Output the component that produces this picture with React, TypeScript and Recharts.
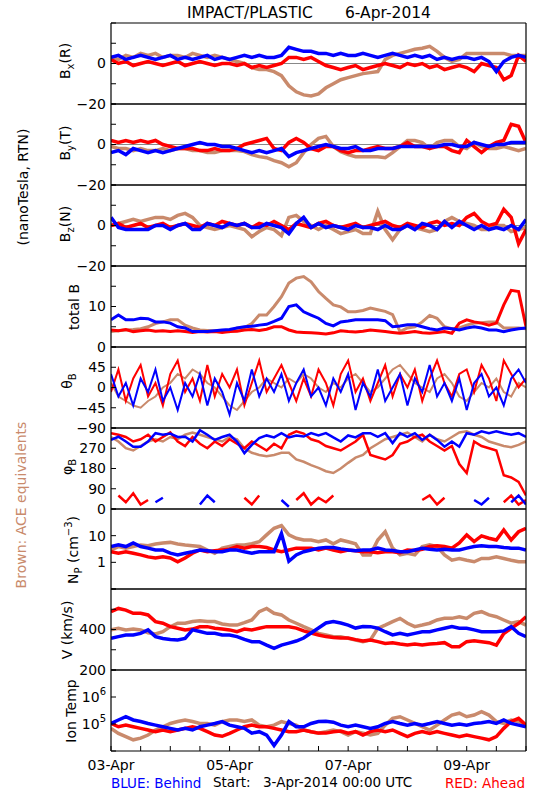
import React from 'react'
import { LineChart, Line, XAxis, YAxis, CartesianGrid } from 'recharts'

// time grid, hours after 03-Apr-2014 00:00 UTC (3-hour steps)
const HOURS = [0, 3, 6, 9, 12, 15, 18, 21, 24, 27, 30, 33, 36, 39, 42, 45, 48, 51, 54, 57, 60, 63, 66, 69, 72, 75, 78, 81, 84, 87, 90, 93, 96, 99, 102, 105, 108, 111, 114, 117, 120, 123, 126, 129, 132, 135, 138, 141, 144, 147, 150, 153, 156, 159, 162, 165, 168]
const DAY_TICKS = [0, 12, 24, 36, 48, 60, 72, 84, 96, 108, 120, 132, 144, 156, 168]
const DAY_LABELS: Record<number, string> = { 0: '03-Apr', 48: '05-Apr', 96: '07-Apr', 144: '09-Apr' }

// B_R (nT): B = STEREO Behind, A = STEREO Ahead, C = ACE
const BX_B = [3, 4, 2, 3, 4, 3, 2, 3, 4, 2, 3, 2, 3, 4, 2, 3, 2, 3, 4, 3, 4, 3, 3, 4, 8, 7, 6, 6, 5, 5, 4, 5, 4, 4, 5, 4, 3, 4, 5, 4, 3, 4, 3, 4, 2, 3, 2, 3, 3, 2, 3, 1, -4, 1, 3, 4, 3]
const BX_A = [2, 0, 1, -1, 0, 1, 0, -1, 0, 1, -1, 0, 1, 0, -1, 0, 0, -1, 0, -2, -1, -2, -1, 0, 3, 3, 2, 3, 1, -1, -2, -3, -2, -1, -3, -2, -1, 0, -1, -2, 0, -1, 0, -2, -1, -3, -2, -1, -2, -4, 0, -1, -2, -8, -6, 4, 1]
const BX_C = [3, 2, 4, 3, 5, 4, 5, 3, 4, 4, 3, 5, 4, 3, 4, 3, 2, 1, 0, -2, -3, -3, -4, -6, -11, -14, -15.5, -16, -15, -12, -10, -8, -7, -6, -5, -4.5, -4, 2, 4, 5, 6, 7, 7.5, 8.5, 6, 3, 1, 2, 5, 5, 5, 5, 5, 5, 4, 4, 4]

// B_T (nT)
const BY_B = [-4, -3, -5, -2, -3, -4, -3, -4, -3, -2, -1, 0, 1, 0, 0, -1, -1, -2, -3, -4, -3, -4, -3, -2, -6, -4, -3, -2, -1, 0, -1, -2, -2, -1, -3, -3, -2, -2, -2, -1, -1, -1, -1, -1, -1, 0, 0, -1, -1, 1, 0, -1, 0, 0, 1, 1, 1]
const BY_A = [2, 1, 2, 1, 2, 1, 2, 0, -1, -2, -2, -2, -3, -3, -2, -3, -3, -2, 0, 1, 2, 3, -2, -3, 1, 3, 1, -2, -3, -1, -1, -3, -4, -3, -3, -2, -1, -2, -2, -1, 1, -1, -1, -2, -1, -1, -3, -4, 2, -1, -4, -1, 1, 2, 10, 9, 1]
const BY_C = [-1, -2, -2, -3, -2, -3, -3, -2, -3, -2, -2, -3, -3, -4, -4, -3, -3, -3, -3.5, -5, -6, -6.5, -8, -9, -11, -9, -4, 0, 3, 4, -1, -3.5, -5, -6, -6, -6, -6, -6.5, -4, -1, 2, 2, 1, -2, 1, 2, 2, -1, -2, 1, -1, -2, -2, -1, -2, -3, -2]

// B_N (nT)
const BZ_B = [4, -1, -2, -2, -2, -2, 0, 0, -2, 0, 1, -2, -2, 1, 0, -1, 1, 0, 1, -1, -1, 1, 0, -1, -4, 1, 4, -1, 1, -1, 0, -1, -2, 0, -1, -1, -2, 0, -2, -2, 0, -2, 1, 0, -2, 2, -1, 2, 0, -2, 0, -2, -1, -2, 0, -2, 3]
const BZ_A = [0, 1, -1, 0, 1, -1, 0, 1, -1, 0, 1, 0, -1, 1, 0, 2, 1, 0, 1, -1, 1, 0, 2, 0, -2, 1, 0, -1, 1, 2, 0, -1, 0, 1, -1, 0, 1, 2, 0, -1, 1, 0, -1, 1, 2, 0, 1, 0, 4, 6, 2, 0, 1, 8, 4, -9, -2]
const BZ_C = [0, 1, 2, 3, 2, 3, 4, 4, 3, 5, 6, 4, 0, -1, -2, -1, 0, -1, -2, -5.5, -3, -1, -2, -5, 4, 5, 2, 0, -2, 0, -2, -4, -3, -2, -4, -4, 7, -2, -7, -2, 0, -1, -2, -3, -2, 2, 4, 2, 1, 0, -2, -2, 0, 0, -3, -2, -1]

// |B| (nT)
const BT_B = [6.7, 7.9, 6.7, 6.7, 7.1, 7, 6.2, 6.2, 5.9, 5, 4.7, 3.8, 3.8, 3.8, 4, 4.2, 4.3, 4.7, 5, 5.1, 5.4, 5.6, 6.3, 7.1, 10, 10.4, 8.7, 7.9, 7.1, 5.8, 5.2, 6.2, 6.4, 6.7, 6.7, 6.7, 6.7, 6.5, 5, 5.2, 5.5, 5.5, 5, 4.5, 4.2, 4.7, 4.5, 4.2, 4.7, 5, 4.7, 4.2, 4.2, 3.8, 4.2, 4.5, 4.7]
const BT_A = [4.2, 4, 4.3, 3.8, 4, 4.2, 3.9, 4, 3.8, 4, 3.8, 3.6, 3.8, 3.7, 3.8, 3.6, 3.8, 3.9, 4.2, 4.3, 4.1, 4.4, 5, 5, 4.2, 3.7, 3.6, 3.5, 3.4, 3.2, 3.5, 4, 3.8, 3.7, 3.9, 4.2, 4, 3.8, 3.6, 3.4, 3.6, 3.8, 3.5, 3.4, 3.6, 3.8, 3.4, 5.9, 6.7, 6.2, 5.9, 5.4, 5.9, 10.4, 14, 13.7, 5]
const BT_C = [3.8, 4, 4.2, 4.3, 4.5, 5, 5.8, 6.2, 6.7, 6.7, 5.4, 4.7, 4.2, 4.1, 4, 3.9, 3.8, 4.7, 4.8, 5.8, 7.9, 7.9, 10, 12.4, 15.8, 17, 17.4, 16.1, 13.7, 12, 10.4, 9.9, 8.7, 8.7, 9, 9.6, 9.2, 8.8, 8, 3.8, 4.7, 5, 6.2, 7.8, 7.1, 5, 4.5, 4.7, 5.4, 5.9, 6, 6.2, 6.2, 4.7, 4.7, 4.7, 4.5]

// theta_B (deg)
const TH_B = [30, -20, 10, -40, 20, -10, 40, -30, 0, -50, 10, -20, 30, -40, 20, -10, -60, 10, -30, 40, -20, 20, -10, 30, -30, 10, 40, -20, 0, -40, 20, -10, 30, -50, 10, -20, 40, -30, 0, 30, -40, 20, -10, 50, -20, 10, -30, 20, -50, 10, 30, -20, 0, -40, 20, 40, 10]
const TH_A = [-10, 40, -30, 20, 50, -20, 10, -40, 30, 60, -10, 20, -30, 50, -20, 30, 0, 40, -40, 10, 60, -10, 20, 50, 10, -30, 20, -20, 40, 10, -40, 30, 60, -10, 20, -30, 10, 50, -20, 30, 0, 40, -30, 20, 60, 10, -20, 30, 40, -10, 50, 20, -30, 60, 30, 0, 20]
const TH_C = [10, -20, -30, -40, -45, -30, -20, 0, 10, 30, 20, 40, 30, 10, 0, -20, -40, -50, -30, -10, 0, 20, 10, 0, 20, 10, 30, 20, 0, -10, 10, 0, 20, 30, 10, -10, 0, 20, 40, 50, 30, 10, 0, -10, 20, 30, 10, -20, -30, -10, 10, 0, 20, -10, -20, 10, 0]

// phi_B (deg), with the wrapped low branch kept apart
const PH_B = [307, 321, 300, 277, 277, 300, 337, 330, 335, 320, 321, 300, 350, 330, 307, 320, 330, 300, 248, 285, 315, 327, 318, 337, 318, 327, 322, 337, 327, 337, 318, 300, 327, 318, 337, 337, 321, 337, 293, 337, 321, 337, 307, 330, 307, 277, 300, 277, 337, 330, 345, 337, 345, 337, 330, 337, 321]
const PH_B_LOW = [null, null, null, null, null, null, 30, 50, null, null, null, null, 20, 60, 30, null, null, null, null, null, null, null, null, 40, 10, null, null, null, null, null, null, null, null, null, null, null, null, null, null, null, null, null, null, null, null, null, null, null, null, 40, 20, 50, null, null, 30, 60, 20]
const PH_A = [337, 330, 320, 300, 310, 330, 300, 320, 340, 300, 280, 320, 290, 270, 300, 280, 310, 290, 270, 300, 280, 260, 290, 270, 330, 345, 335, 310, 300, 280, 270, 260, 280, 300, 330, 240, 230, 220, 240, 290, 300, 320, 330, 300, 280, 260, 280, 200, 160, 300, 280, 270, 260, 150, 140, 120, 60]
const PH_A_LOW = [null, 60, 30, 70, 20, 40, null, null, null, null, null, null, null, null, null, null, null, null, 50, 20, 60, null, null, null, null, 40, 70, 20, 50, 30, 60, null, null, null, null, null, null, null, null, null, null, null, 40, 60, 20, 50, null, null, null, null, null, null, null, 30, 60, 20, 40]
const PH_C = [320, 300, 270, 260, 280, 300, 310, 300, 320, 310, 330, 340, 330, 320, 310, 300, 320, 310, 270, 250, 240, 235, 240, 250, 250, 220, 210, 195, 183, 168, 160, 180, 205, 228, 240, 270, 290, 310, 320, 330, 340, 320, 300, 330, 310, 300, 320, 340, 345, 330, 320, 300, 290, 280, 275, 285, 300]

// proton density (cm^-3)
const NP_B = [3.9, 4.5, 3.9, 5.3, 3.9, 3.4, 2.9, 2.9, 2.2, 1.9, 2.2, 2.5, 2.9, 2.7, 2.5, 2.5, 2.9, 2.9, 2.5, 2.2, 2.5, 2.5, 2.5, 12, 1.1, 1.9, 2.5, 2.9, 3.4, 3.6, 3.6, 3.2, 2.9, 2.7, 2.9, 2.9, 3.4, 2.9, 2.8, 2.5, 2.5, 2.9, 3.4, 3.1, 2.9, 3.1, 2.9, 2.9, 3.4, 3.9, 4.2, 3.9, 3.9, 3.6, 3.4, 3.4, 2.9]
const NP_A = [2.5, 2.2, 2.5, 2.2, 1.9, 1.6, 1.45, 1.6, 1.45, 1.05, 1.45, 2.2, 2.9, 2.5, 2.7, 2.9, 3.1, 3.9, 3.4, 3.9, 3.9, 3.6, 2.9, 2.5, 2.9, 3.4, 3.4, 3.4, 2.9, 3.4, 2.9, 2.5, 2.9, 2.7, 2.5, 2.5, 2.3, 2.5, 2.5, 2.3, 2.9, 2.8, 3.1, 3.9, 4.2, 3.9, 3.4, 5.3, 10.7, 6, 9.8, 8, 6.9, 16.4, 6.9, 14, 19]
const NP_C = [2.9, 3.9, 3.4, 3.9, 4.5, 4.2, 4.9, 5.3, 5.6, 4.9, 4.5, 4.2, 3.9, 2.9, 2.2, 3.4, 3.9, 4.5, 4.5, 5, 5.9, 10.7, 19, 24, 10.7, 8, 6.9, 6.9, 5.9, 6.9, 5, 6.9, 5.9, 5, 1.9, 1.9, 6.9, 14, 3.4, 1.9, 2.2, 1.9, 3.9, 4.5, 3.9, 1.9, 1.2, 1.4, 1.2, 1.05, 1.4, 1.4, 1.6, 1.4, 1.2, 1.05, 1.05]

// bulk speed (km/s)
const V_B = [356, 365, 373, 373, 381, 398, 365, 356, 351, 348, 356, 398, 390, 381, 381, 373, 373, 365, 351, 340, 340, 323, 307, 323, 333, 343, 358, 383, 407, 432, 439, 432, 422, 407, 415, 414, 406, 389, 373, 381, 373, 381, 389, 389, 398, 406, 414, 406, 406, 398, 389, 389, 389, 393, 414, 381, 365]
const V_A = [488, 504, 496, 480, 480, 472, 439, 431, 414, 406, 398, 402, 414, 414, 406, 402, 398, 389, 402, 398, 406, 414, 414, 414, 414, 407, 393, 383, 373, 365, 360, 358, 358, 350, 343, 348, 340, 331, 335, 328, 323, 328, 323, 328, 331, 335, 315, 315, 340, 344, 340, 335, 323, 380, 406, 430, 463]
const V_C = [398, 406, 398, 402, 398, 384, 378, 389, 414, 431, 431, 439, 443, 439, 439, 427, 422, 422, 434, 447, 488, 504, 480, 472, 447, 431, 414, 398, 381, 373, 364, 364, 356, 348, 340, 348, 406, 422, 439, 455, 431, 414, 422, 431, 447, 455, 455, 463, 455, 480, 488, 472, 463, 447, 431, 439, 422]

// ion temperature (K)
const T_B = [1.05e5, 1.41e5, 1.86e5, 1.41e5, 1.23e5, 1.05e5, 9.1e4, 7.9e4, 6.9e4, 6.0e4, 6.9e4, 6.0e4, 7.9e4, 9.1e4, 1.05e5, 1.23e5, 9.1e4, 7.9e4, 6.9e4, 4.6e4, 5.2e4, 3.9e4, 1.6e4, 3.9e4, 1.23e5, 7.9e4, 7.9e4, 1.05e5, 1.23e5, 1.26e5, 1.17e5, 9.1e4, 7.9e4, 9.1e4, 7.9e4, 6.9e4, 7.9e4, 1.05e5, 1.23e5, 1.05e5, 9.1e4, 1.05e5, 9.1e4, 1.05e5, 1.23e5, 1.05e5, 9.1e4, 1.0e5, 9.1e4, 1.05e5, 1.12e5, 1.23e5, 1.05e5, 1.41e5, 1.05e5, 9.1e4, 7.9e4]
const T_A = [1.05e5, 7.9e4, 9.1e4, 7.9e4, 6.9e4, 6.0e4, 5.2e4, 6.0e4, 5.2e4, 6.0e4, 6.9e4, 7.9e4, 6.9e4, 5.2e4, 3.9e4, 3.5e4, 4.5e4, 6.0e4, 7.9e4, 9.1e4, 7.9e4, 7.9e4, 6.9e4, 6.0e4, 5.2e4, 5.2e4, 6.0e4, 5.2e4, 4.6e4, 4.6e4, 5.2e4, 5.5e4, 4.6e4, 5.2e4, 3.9e4, 5.2e4, 6.0e4, 5.2e4, 6.0e4, 4.5e4, 3.4e4, 4.5e4, 5.2e4, 4.5e4, 5.2e4, 4.5e4, 3.9e4, 3.4e4, 3.9e4, 3.4e4, 3.0e4, 2.6e4, 3.4e4, 6.9e4, 1.23e5, 1.62e5, 9.1e4]
const T_C = [6.9e4, 4.5e4, 3.4e4, 2.6e4, 3.0e4, 3.9e4, 6.0e4, 7.9e4, 1.05e5, 1.23e5, 1.41e5, 1.23e5, 1.05e5, 1.05e5, 9.1e4, 1.23e5, 1.41e5, 1.41e5, 1.23e5, 1.41e5, 9.1e4, 7.9e4, 9.1e4, 1.23e5, 1.05e5, 9.1e4, 6.0e4, 5.2e4, 4.6e4, 5.2e4, 6.0e4, 5.2e4, 3.9e4, 5.2e4, 4.6e4, 3.9e4, 4.5e4, 9.1e4, 1.62e5, 1.86e5, 1.41e5, 1.05e5, 7.9e4, 6.0e4, 9.1e4, 1.41e5, 2.14e5, 2.51e5, 1.86e5, 2.14e5, 2.88e5, 2.14e5, 1.23e5, 1.05e5, 1.41e5, 1.23e5, 9.1e4]

const BLUE = '#0000ff'
const RED = '#ff0000'
const BROWN = '#c98a6c'
const FONT = '"DejaVu Sans", Verdana, sans-serif'

type Num = number | null
type PanelDef = {
  top: number
  h: number
  domain: [number, number]
  ticks: number[]
  labels: number[]
  log?: boolean
  pow?: boolean
  zero?: boolean
  width: number
  blue: Num[]
  red: Num[]
  brown: Num[]
  blueLow?: Num[]
  redLow?: Num[]
}

const PANELS: PanelDef[] = [
  { top: 23, h: 81, domain: [-20, 20], ticks: [-20, -10, 0, 10, 20], labels: [0, -20], zero: true, width: 3.5, blue: BX_B, red: BX_A, brown: BX_C },
  { top: 104, h: 81, domain: [-20, 20], ticks: [-20, -10, 0, 10, 20], labels: [0, -20], zero: true, width: 3.5, blue: BY_B, red: BY_A, brown: BY_C },
  { top: 185, h: 81, domain: [-20, 20], ticks: [-20, -10, 0, 10, 20], labels: [0, -20], zero: true, width: 3.5, blue: BZ_B, red: BZ_A, brown: BZ_C },
  { top: 266, h: 81, domain: [0, 20], ticks: [0, 5, 10, 15, 20], labels: [0, 10], width: 3, blue: BT_B, red: BT_A, brown: BT_C },
  { top: 347, h: 81, domain: [-90, 90], ticks: [-90, -45, 0, 45, 90], labels: [45, 0, -45, -90], width: 2, blue: TH_B, red: TH_A, brown: TH_C },
  { top: 428, h: 81, domain: [0, 360], ticks: [0, 90, 180, 270, 360], labels: [0, 90, 180, 270], width: 2.5, blue: PH_B, red: PH_A, brown: PH_C, blueLow: PH_B_LOW, redLow: PH_A_LOW },
  { top: 509, h: 80, domain: [0.1, 100], ticks: [0.1, 1, 10, 100], labels: [1, 10], log: true, width: 3.5, blue: NP_B, red: NP_A, brown: NP_C },
  { top: 589, h: 81, domain: [200, 600], ticks: [200, 300, 400, 500, 600], labels: [200, 400], width: 3.5, blue: V_B, red: V_A, brown: V_C },
  { top: 670, h: 81, domain: [1e4, 1e7], ticks: [1e4, 1e5, 1e6, 1e7], labels: [1e5, 1e6], log: true, pow: true, width: 3.5, blue: T_B, red: T_A, brown: T_C },
]

const fmt = (v: number) => (v < 0 ? '\u2212' + Math.abs(v) : String(v))

function PowTick(props: any) {
  const { x, y, payload, labels } = props
  if (!labels.includes(payload.value)) return <g />
  const e = Math.round(Math.log10(payload.value))
  return (
    <text x={x} y={y} dy={5} textAnchor="end" fontSize={14} fill="#000" fontFamily={FONT}>
      10<tspan dy={-7} fontSize={10}>{e}</tspan>
    </text>
  )
}

function Panel({ p, last }: { p: PanelDef; last: boolean }) {
  const rows = HOURS.map((t, i) => ({
    t,
    b: p.blue[i],
    a: p.red[i],
    c: p.brown[i],
    bl: p.blueLow ? p.blueLow[i] : null,
    al: p.redLow ? p.redLow[i] : null,
  }))
  const bottomH = last ? 32 : 20
  const axisLine = { stroke: '#000', strokeWidth: 1.2 }
  const yTick = p.pow
    ? (props: any) => <PowTick {...props} labels={p.labels} />
    : { fill: '#000', fontSize: 14, fontFamily: FONT }
  return (
    <div style={{ position: 'absolute', left: 0, top: p.top - 20 }}>
      <LineChart width={550} height={p.h + 20 + bottomH} data={rows} margin={{ top: 0, right: 0, bottom: 0, left: 0 }}>
        {p.zero && (
          <CartesianGrid xAxisId="b" yAxisId="l" vertical={false} horizontalValues={[0]} stroke="#888888" strokeWidth={1} />
        )}
        <XAxis
          xAxisId="b"
          dataKey="t"
          type="number"
          domain={[0, 168]}
          ticks={DAY_TICKS}
          interval={0}
          orientation="bottom"
          height={bottomH}
          tickSize={-5}
          tickMargin={14}
          axisLine={axisLine}
          tickLine={{ stroke: '#000' }}
          tick={last ? { fill: '#000', fontSize: 14, fontFamily: FONT } : false}
          tickFormatter={(v: number) => DAY_LABELS[v] ?? ''}
          allowDataOverflow
        />
        <XAxis
          xAxisId="t"
          dataKey="t"
          type="number"
          domain={[0, 168]}
          ticks={DAY_TICKS}
          interval={0}
          orientation="top"
          height={20}
          tickSize={-5}
          axisLine={axisLine}
          tickLine={{ stroke: '#000' }}
          tick={false}
          allowDataOverflow
        />
        <YAxis
          yAxisId="l"
          type="number"
          scale={p.log ? 'log' : 'auto'}
          domain={p.domain}
          ticks={p.ticks}
          interval={0}
          width={111}
          tickSize={-5}
          tickMargin={10}
          axisLine={axisLine}
          tickLine={{ stroke: '#000' }}
          tick={yTick as any}
          tickFormatter={(v: number) => (p.labels.includes(v) ? fmt(v) : '')}
          allowDataOverflow
        />
        <YAxis
          yAxisId="r"
          orientation="right"
          type="number"
          scale={p.log ? 'log' : 'auto'}
          domain={p.domain}
          ticks={p.ticks}
          interval={0}
          width={24}
          tickSize={-5}
          axisLine={axisLine}
          tickLine={{ stroke: '#000' }}
          tick={false}
          allowDataOverflow
        />
        <Line xAxisId="b" yAxisId="l" type="linear" dataKey="c" stroke={BROWN} strokeWidth={p.width} dot={false} isAnimationActive={false} />
        <Line xAxisId="b" yAxisId="l" type="linear" dataKey="a" stroke={RED} strokeWidth={p.width} dot={false} isAnimationActive={false} />
        <Line xAxisId="b" yAxisId="l" type="linear" dataKey="b" stroke={BLUE} strokeWidth={p.width} dot={false} isAnimationActive={false} />
        {p.redLow && (
          <Line xAxisId="b" yAxisId="l" type="linear" dataKey="al" stroke={RED} strokeWidth={p.width} dot={false} isAnimationActive={false} />
        )}
        {p.blueLow && (
          <Line xAxisId="b" yAxisId="l" type="linear" dataKey="bl" stroke={BLUE} strokeWidth={p.width} dot={false} isAnimationActive={false} />
        )}
      </LineChart>
    </div>
  )
}

function VLabel({ x, y, color = '#000', size = 14, children }: { x: number; y: number; color?: string; size?: number; children: React.ReactNode }) {
  return (
    <text transform={`translate(${x},${y}) rotate(-90)`} textAnchor="middle" fontSize={size} fill={color} fontFamily={FONT}>
      {children}
    </text>
  )
}

export default function App() {
  return (
    <div style={{ position: 'absolute', left: 0, top: 0, width: 550, height: 800, background: '#fff', fontFamily: FONT }}>
      {PANELS.map((p, i) => (
        <Panel key={i} p={p} last={i === PANELS.length - 1} />
      ))}
      <svg width={550} height={800} style={{ position: 'absolute', left: 0, top: 0, pointerEvents: 'none' }}>
        <text x={187} y={18} fontSize={15.5} fill="#000" fontFamily={FONT}>IMPACT/PLASTIC</text>
        <text x={345} y={18} fontSize={15.5} fill="#000" fontFamily={FONT}>6-Apr-2014</text>

        <VLabel x={28} y={187}>(nanoTesla, RTN)</VLabel>
        <VLabel x={26} y={505} color={BROWN}>Brown: ACE equivalents</VLabel>

        <VLabel x={70} y={61}>B<tspan dy={4} fontSize={10}>x</tspan><tspan dy={-4}>(R)</tspan></VLabel>
        <VLabel x={70} y={143}>B<tspan dy={4} fontSize={10}>y</tspan><tspan dy={-4}>(T)</tspan></VLabel>
        <VLabel x={70} y={224}>B<tspan dy={4} fontSize={10}>z</tspan><tspan dy={-4}>(N)</tspan></VLabel>
        <VLabel x={79} y={307}>total B</VLabel>
        <VLabel x={72} y={381}>θ<tspan dy={4} fontSize={10}>B</tspan></VLabel>
        <VLabel x={72} y={467}>φ<tspan dy={4} fontSize={10}>B</tspan></VLabel>
        <VLabel x={78} y={550}>N<tspan dy={4} fontSize={10}>P</tspan><tspan dy={-4}> (cm</tspan><tspan dy={-6} fontSize={10}>−3</tspan><tspan dy={6}>)</tspan></VLabel>
        <VLabel x={72} y={630}>V (km/s)</VLabel>
        <VLabel x={76} y={711}>Ion Temp</VLabel>

        <text x={111} y={788} fontSize={13.5} fill={BLUE} fontFamily={FONT}>BLUE: Behind</text>
        <text x={213} y={787} fontSize={13.5} fill="#000" fontFamily={FONT}>Start:</text>
        <text x={263} y={787} fontSize={13.5} fill="#000" fontFamily={FONT}>3-Apr-2014 00:00 UTC</text>
        <text x={525} y={788} fontSize={13.5} fill={RED} textAnchor="end" fontFamily={FONT}>RED: Ahead</text>
      </svg>
    </div>
  )
}
